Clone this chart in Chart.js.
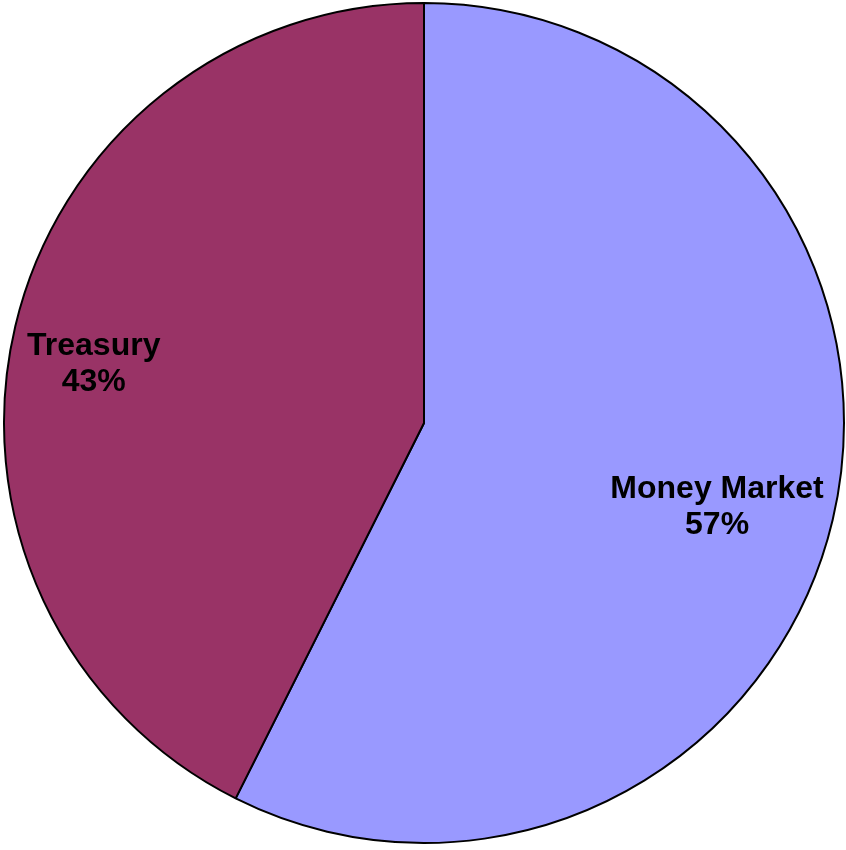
<!DOCTYPE html>
<html>
<head>
<meta charset="utf-8">
<script src="https://cdn.jsdelivr.net/npm/chart.js@4/dist/chart.umd.min.js"></script>
<style>
  html, body { margin: 0; padding: 0; background: #ffffff; }
  #wrap { width: 846px; height: 850px; position: relative; }
</style>
</head>
<body>
<div id="wrap"><canvas id="c"></canvas></div>
<script>
const categories = ["Money Market", "Treasury"];
const shares = [57.4, 42.6];
const sliceColors = ["#9999FF", "#993366"];

const labelPlugin = {
  id: 'sliceLabels',
  afterDatasetsDraw(chart, args, opts) {
    const ctx = chart.ctx;
    const meta = chart.getDatasetMeta(0);
    const data = chart.data.datasets[0].data;
    const total = data.reduce((a, b) => a + b, 0);
    ctx.save();
    ctx.fillStyle = '#000000';
    ctx.font = 'bold 32px "Liberation Sans", Arial, sans-serif';
    ctx.textAlign = 'center';
    ctx.textBaseline = 'alphabetic';
    meta.data.forEach((arc, i) => {
      const p = arc.getProps(['x', 'y', 'startAngle', 'endAngle', 'outerRadius'], true);
      const o = opts.place[i];
      const mid = (p.startAngle + p.endAngle) / 2 + o.dAngle * Math.PI / 180;
      const r = p.outerRadius * o.frac;
      const x = p.x + Math.cos(mid) * r;
      const y = p.y + Math.sin(mid) * r;
      const pct = Math.round(data[i] / total * 100) + '%';
      ctx.fillText(chart.data.labels[i], x, y - 6);
      ctx.fillText(pct, x, y + 30);
    });
    ctx.restore();
  }
};

new Chart(document.getElementById('c'), {
  type: 'pie',
  data: {
    labels: categories,
    datasets: [{
      data: shares,
      backgroundColor: sliceColors,
      borderColor: '#000000',
      borderWidth: 2
    }]
  },
  options: {
    responsive: true,
    maintainAspectRatio: false,
    animation: false,
    layout: { padding: { left: 3, right: 1, top: 2, bottom: 6 } },
    plugins: {
      legend: { display: false },
      tooltip: { enabled: false },
      sliceLabels: {
        place: [
          { frac: 0.724, dAngle: 2.15 },
          { frac: 0.80, dAngle: -2.7 }
        ]
      }
    }
  },
  plugins: [labelPlugin]
});
</script>
</body>
</html>
